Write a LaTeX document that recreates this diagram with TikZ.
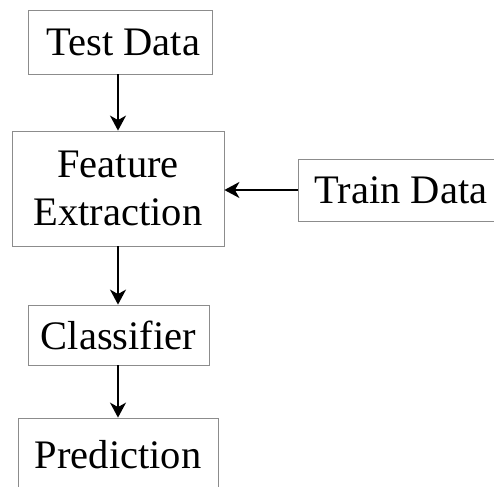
\documentclass[tikz,border=0pt]{standalone}
\usepackage{fontspec}
\setmainfont{Liberation Serif}
\usetikzlibrary{arrows.meta}

\begin{document}
\begin{tikzpicture}[x=1pt,y=-1pt]
	\useasboundingbox (0,0) rectangle (494,486);
	\begin{scope}[every node/.style={rectangle,draw=black!45,line width=0.8pt,align=center,inner sep=0pt,font=\fontsize{40.5}{48}\selectfont}]
		\node[minimum width=184pt,minimum height=64pt] (test) at (120,42) {\,Test Data};
		\node[minimum width=212pt,minimum height=115pt] (feat) at (118,188.5) {Feature\\Extraction};
		\node[minimum width=206pt,minimum height=62pt] (train) at (401,190) {Train Data};
		\node[minimum width=181pt,minimum height=60pt] (clf) at (118.5,335) {Classifier};
		\node[minimum width=200pt,minimum height=74pt] (pred) at (118,455) {Prediction};
	\end{scope}
	
	\begin{scope}[every edge/.style={draw=black,line width=1.9pt},>={Stealth[length=15pt,width=16pt,inset=4.5pt]}]
		\path [->] (feat.north |- test.south) edge (feat.north);
		\path [->] (train.west) edge (train.west -| feat.east);
		\path [->] (feat.south) edge (feat.south |- clf.north);
		\path [->] (feat.south |- clf.south) edge (feat.south |- pred.north);
	\end{scope}
\end{tikzpicture}
\end{document}
